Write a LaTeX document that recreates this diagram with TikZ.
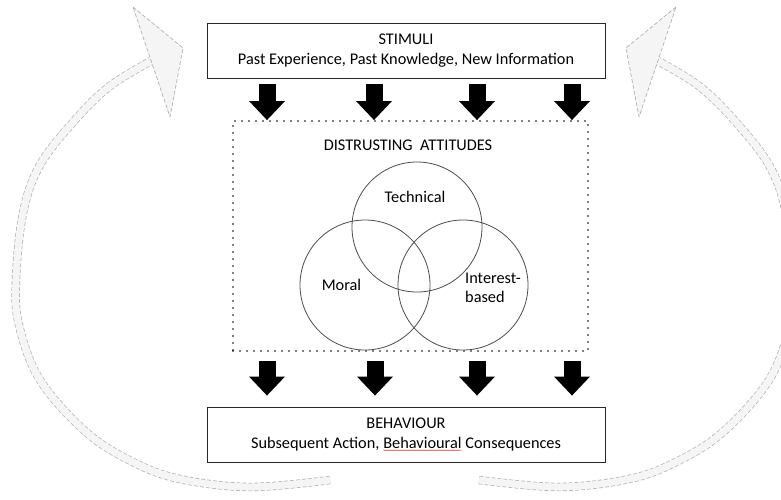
\documentclass[tikz,border=0pt]{standalone}
\usepackage{fontspec}
\setmainfont{Carlito}
\usetikzlibrary{arrows.meta,calc,decorations.pathmorphing}
\newcommand\spellmark[1]{\tikz[baseline=(sw.base)]{\node[inner sep=0pt,outer sep=0pt,minimum width=0pt,minimum height=0pt,draw=none,fill=none,align=left](sw){#1};\draw[red!85!black,line width=0.35pt,decorate,decoration={snake,amplitude=0.45pt,segment length=2pt}]([yshift=-2pt]sw.base west)--([yshift=-2pt]sw.base east);}}
\newcommand\bandpts{(330,480) (250,487) (180,479) (133,462) (86,432) (40,380) (19,325) (16,280) (23,213) (40,165) (75,120) (110,86) (151,61)}
\newcommand\loopband{%
  \draw[bandline] plot[smooth,tension=0.6] coordinates{\bandpts};
  \draw[bandfill] plot[smooth,tension=0.6] coordinates{\bandpts};
  \draw[bandhead] (133,7) -- (183,48) -- (170,117) -- cycle;}
\begin{document}
\begin{tikzpicture}[x=1pt,y=-1pt,
  bandline/.style={draw=gray!60,line width=8.4pt,dash pattern=on 4pt off 2pt},
  bandfill/.style={draw=gray!8,line width=7pt},
  bandhead/.style={draw=gray!60,fill=gray!8,line width=0.7pt,dash pattern=on 4pt off 2pt,line join=round},
  box/.style={draw=black!85,line width=0.9pt,fill=white,minimum width=398pt,minimum height=55pt,inner sep=0pt,align=center,font=\fontsize{16.3}{19.5}\selectfont},
  dotbox/.style={draw=black,line width=1.9pt,dash pattern=on 0pt off 7pt,line cap=round,minimum width=355pt,minimum height=230pt,inner sep=0pt},
  circ/.style={circle,draw=black!70,line width=0.8pt,minimum size=130pt,inner sep=0pt},
  lbl/.style={font=\fontsize{16.3}{19}\selectfont,inner sep=0pt,align=left},
  blk/.style={black,line width=17pt,-{Triangle[width=36pt,length=19pt,line width=0pt]}}]
\useasboundingbox (0,0) rectangle (781,499);
\fill[white] (0,0) rectangle (781,499);
% feedback loops
\loopband
\begin{scope}[xshift=809pt,xscale=-1]
\loopband
\end{scope}
% boxes
\node[box] (stim) at (406,50.5) {STIMULI\\Past Experience, Past Knowledge, New Information};
\node[box] (beh) at (406,434.5) {BEHAVIOUR\\Subsequent Action, \spellmark{Behavioural} Consequences};
\node[dotbox] (dist) at (410.5,236) {};
\node[lbl] (title) at (408,145) {DISTRUSTING\ \ ATTITUDES};
% circles
\node[circ] (tech) at (417,227) {};
\node[circ] (moral) at (365,285) {};
\node[circ] (inter) at (463,285) {};
\node[lbl] (techl) at (415,197) {Technical};
\node[lbl] (morall) at (341.5,285) {Moral};
\node[lbl,anchor=west] (interl) at (465,288) {Interest-\\based};
% block arrows
\foreach \i/\x in {1/267,2/374,3/477,4/572}{
  \coordinate (ta\i) at (\x,0);
  \draw[blk] ($(stim.south -| ta\i)+(0,6)$) -- (dist.north -| ta\i);
}
\foreach \i/\x in {1/267,2/375,3/477,4/572}{
  \coordinate (ba\i) at (\x,0);
  \draw[blk] ($(dist.south -| ba\i)+(0,9)$) -- ($(beh.north -| ba\i)+(0,-11)$);
}
\end{tikzpicture}
\end{document}
